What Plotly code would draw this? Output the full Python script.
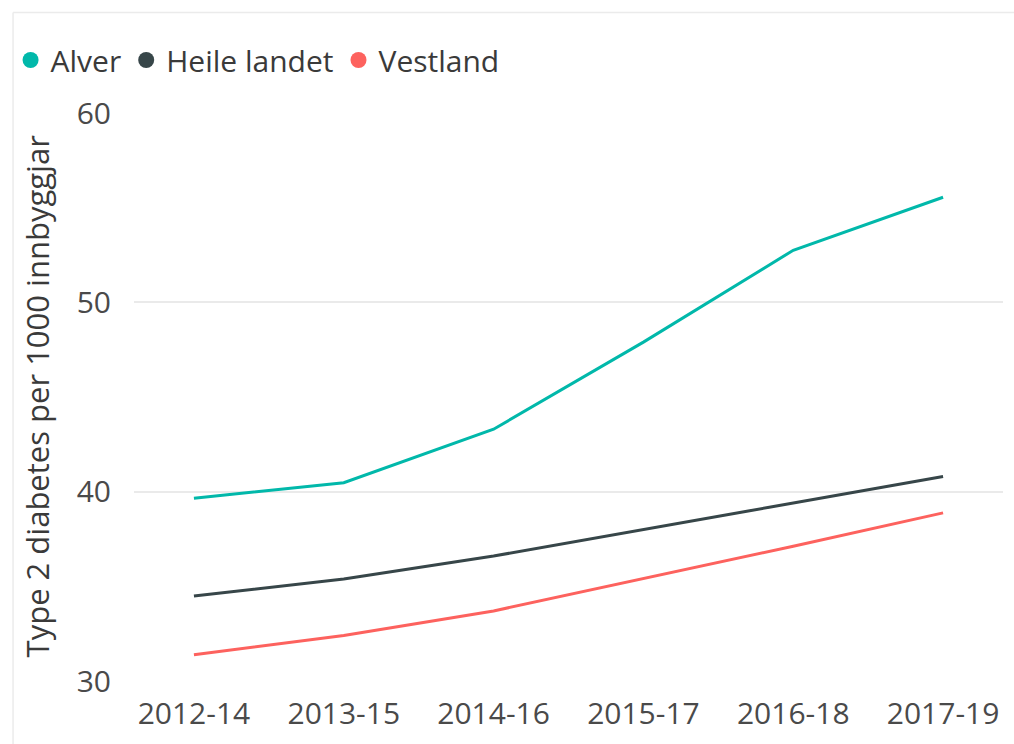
import plotly.graph_objects as go

periods = ["2012-14", "2013-15", "2014-16", "2015-17", "2016-18", "2017-19"]
alver = [39.65, 40.47, 43.3, 47.9, 52.75, 55.55]
heile_landet = [34.49, 35.39, 36.6, 38.0, 39.4, 40.8]
vestland = [31.39, 32.4, 33.7, 35.4, 37.12, 38.88]

series_names = ["Alver", "Heile landet", "Vestland"]
series_values = [alver, heile_landet, vestland]
colors = ["#01B8AA", "#374649", "#FD625E"]

y_ticks = [30, 40, 50, 60]
y_title = "Type 2 diabetes per 1000 innbyggjar"

FONT = "Open Sans, Noto Sans, sans-serif"
TICK_COLOR = "#4A4A4A"
TEXT_COLOR = "#3A3A3A"

W, H = 1014, 744
L, R, T, B = 130, 11, 113, 63
pw, ph = W - L - R, H - T - B

fig = go.Figure()
for name, vals, c in zip(series_names, series_values, colors):
    fig.add_trace(go.Scatter(
        x=periods, y=vals, mode="lines", name=name,
        line=dict(color=c, width=3), showlegend=False,
        hovertemplate="%{x}: %{y}<extra>" + name + "</extra>",
    ))
# legend-only circle markers
for name, c in zip(series_names, colors):
    fig.add_trace(go.Scatter(
        x=[None], y=[None], mode="markers", name=name,
        marker=dict(color=c, size=20, symbol="circle"),
        showlegend=True,
    ))

# card border (light gray top and left edges)
bx = (8.5 - L) / pw
by = 1 + (T - 12.5) / ph
fig.add_shape(type="line", xref="paper", yref="paper",
              x0=bx, x1=1 + (R + 5) / pw, y0=by, y1=by,
              line=dict(color="#EBEBEB", width=1.5), layer="below")
fig.add_shape(type="line", xref="paper", yref="paper",
              x0=bx, x1=bx, y0=by, y1=-(B + 5) / ph,
              line=dict(color="#EBEBEB", width=1.5), layer="below")

# y-axis title
fig.add_annotation(
    text=y_title, textangle=-90, showarrow=False,
    xref="paper", yref="paper",
    x=(33 - L) / pw, xanchor="center",
    y=(H - B - 396) / ph, yanchor="middle",
    font=dict(family=FONT, size=31, color=TEXT_COLOR),
)

fig.update_layout(
    width=W, height=H,
    margin=dict(l=L, r=R, t=T, b=B, pad=0),
    paper_bgcolor="white", plot_bgcolor="white",
    font=dict(family=FONT, color=TICK_COLOR, size=30),
    showlegend=True,
    legend=dict(
        orientation="h", x=(6 - L) / pw, xanchor="left",
        y=1 + (T - 60) / ph, yanchor="middle",
        font=dict(family=FONT, size=30, color=TEXT_COLOR),
        itemwidth=30, itemsizing="trace", tracegroupgap=0,
        bgcolor="rgba(0,0,0,0)",
    ),
    xaxis=dict(
        type="category", range=[-0.4, 5.4],
        showgrid=False, zeroline=False, showline=False,
        ticks="", tickfont=dict(size=30, color=TICK_COLOR),
        ticklabelstandoff=12,
    ),
    yaxis=dict(
        range=[30, 60], tickvals=y_ticks,
        showgrid=True, gridcolor="#EAEAEA", gridwidth=1.5,
        zeroline=False, showline=False, ticks="",
        tickfont=dict(size=30, color=TICK_COLOR),
        ticklabelstandoff=22,
    ),
)

fig.write_html("out.html", config={"displayModeBar": False},
               post_script="document.body.style.margin='0';document.body.style.overflow='hidden';")
